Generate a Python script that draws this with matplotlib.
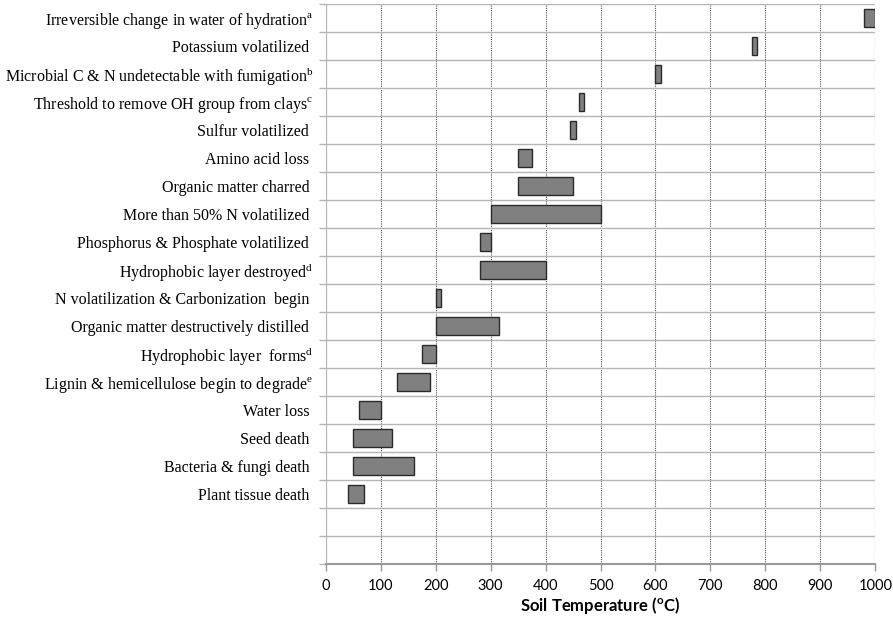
import matplotlib
matplotlib.use("Agg")
import matplotlib.pyplot as plt
import numpy as np

# Processes, top to bottom
labels = [
    "Irreversible change in water of hydration$^{\\mathrm{a}}$",
    "Potassium volatilized ",
    "Microbial C & N undetectable with fumigation$^{\\mathrm{b}}$",
    "Threshold to remove OH group from clays$^{\\mathrm{c}}$",
    "Sulfur volatilized ",
    "Amino acid loss ",
    "Organic matter charred ",
    "More than 50% N volatilized ",
    "Phosphorus & Phosphate volatilized ",
    "Hydrophobic layer destroyed$^{\\mathrm{d}}$",
    "N volatilization & Carbonization  begin ",
    "Organic matter destructively distilled ",
    "Hydrophobic layer  forms$^{\\mathrm{d}}$",
    "Lignin & hemicellulose begin to degrade$^{\\mathrm{e}}$",
    "Water loss ",
    "Seed death ",
    "Bacteria & fungi death ",
    "Plant tissue death ",
]
t_start = [980, 775, 600, 460, 445, 350, 350, 300, 280, 280, 200, 200, 175, 130, 60, 50, 50, 40]
t_end = [1000, 785, 610, 470, 455, 375, 450, 500, 300, 400, 210, 315, 200, 190, 100, 120, 160, 70]
n_empty = 2  # blank rows at the bottom

plt.rcParams['mathtext.fontset'] = 'custom'
plt.rcParams['mathtext.rm'] = 'Liberation Serif'
plt.rcParams['mathtext.bf'] = 'Lato:bold'

fig = plt.figure(figsize=(8.93, 6.21), dpi=100)
ax = fig.add_axes([325.7 / 893, 1 - 564 / 621, 549.6 / 893, 560 / 621])

n_rows = len(labels) + n_empty
ypos = np.arange(n_rows - 1, n_empty - 1, -1)
widths = np.array(t_end) - np.array(t_start)
ax.barh(ypos, widths, left=t_start, height=0.67, color='#808080',
        edgecolor='#2a2a2a', linewidth=1.0, zorder=3)

ax.set_xlim(0, 1000)
ax.set_ylim(-0.5, n_rows - 0.5)
ax.set_xticks(range(0, 1001, 100))
ax.set_yticks(ypos)
ax.set_yticklabels(labels, family='Liberation Serif', fontsize=11.5)
ax.set_yticks(np.arange(-0.5, n_rows, 1), minor=True)

# grid: dotted verticals, solid row separators
ax.grid(axis='x', which='major', color='#555555', linestyle=(0, (1, 1)), linewidth=0.8)
ax.grid(axis='y', which='minor', color='#b5b5b5', linestyle='-', linewidth=1.0)
ax.set_axisbelow(True)

ax.tick_params(axis='y', which='major', length=0, pad=9)
ax.tick_params(axis='y', which='minor', length=5, color='#b5b5b5', width=1)
ax.tick_params(axis='x', length=5, color='#999999', width=1, labelsize=10.5, pad=6)
for lab in ax.get_xticklabels():
    lab.set_family('Lato')

for side in ['top', 'right']:
    ax.spines[side].set_visible(False)
ax.spines['left'].set_color('#b5b5b5')
ax.spines['bottom'].set_color('#999999')
ax.spines['bottom'].set_linewidth(1.5)

ax.set_xlabel("Soil Temperature ($^{\\mathbf{o}}$C)", family='Lato',
              fontweight='bold', fontsize=12, labelpad=1.5)

fig.savefig("out.png", dpi=100)
